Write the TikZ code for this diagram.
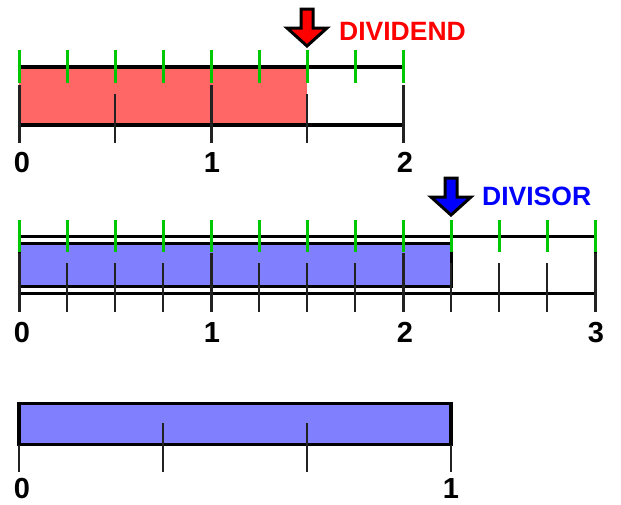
\documentclass[tikz,border=0pt]{standalone}
\usepackage{fontspec}
\setmainfont{Liberation Sans}
\definecolor{redfill}{HTML}{FF6666}
\definecolor{bluefill}{HTML}{8080FF}
\definecolor{tickgreen}{HTML}{00C800}
\definecolor{tickgray}{HTML}{222222}
\begin{document}
\begin{tikzpicture}[x=1pt,y=-1pt,
  barline/.style={line width=3.5pt,draw=black},
  barline2/.style={line width=3pt,draw=black},
  majtick/.style={line width=3pt,draw=tickgray},
  mintick/.style={line width=2.3pt,draw=tickgray},
  greentick/.style={line width=3pt,draw=tickgreen},
  num/.style={font=\bfseries\fontsize{29}{29}\selectfont,inner sep=0pt,anchor=base},
  lab/.style={font=\bfseries\fontsize{26.5}{26.5}\selectfont,inner sep=0pt,anchor=west},
  pointer/.style={line width=3pt,draw=black,line join=miter,miter limit=10},
  pics/downptr/.style={code={
    \filldraw[pointer,fill=#1] (-6,-37) -- (6,-37) -- (6,-18) -- (20,-18) -- (0,0)
      -- (-20,-18) -- (-6,-18) -- cycle;}}
]
\useasboundingbox (0,0) rectangle (621,504);

% ---------- top bar (dividend) ----------
\fill[redfill] (19,67) rectangle (307,125);
\draw[barline] (19,67) -- (403,67);
\draw[barline] (19,125) -- (403,125);
\foreach \i in {0,1,2} \draw[majtick] (19+192*\i,85) -- (19+192*\i,143);
\foreach \x in {115,307} \draw[mintick] (\x,94) -- (\x,143);
\foreach \i in {0,...,8} \draw[greentick] (19+48*\i,50) -- (19+48*\i,83);
\node[num] (a0) at (22,172) {0};
\node[num] (a1) at (212,172) {1};
\node[num] (a2) at (405,172) {2};
\pic at (307,46) {downptr=red};
\node[lab,text=red] (dividend) at (339,31) {DIVIDEND};

% ---------- middle bar (divisor) ----------
\draw[barline2] (19,236.7) rectangle (595,293);
\filldraw[barline2,fill=bluefill] (19,243.3) rectangle (451,286);
\foreach \i in {0,1,2,3} \draw[majtick] (19+192*\i,253) -- (19+192*\i,312);
\foreach \i in {1,2,3,5,6,7,9,10,11} \draw[mintick] (19+48*\i,263) -- (19+48*\i,312);
\foreach \i in {0,...,12} \draw[greentick] (19+48*\i,220) -- (19+48*\i,252);
\node[num] (b0) at (22,342) {0};
\node[num] (b1) at (212,342) {1};
\node[num] (b2) at (405,342) {2};
\node[num] (b3) at (596,342) {3};
\pic at (451,215) {downptr=blue};
\node[lab,text=blue] (divisor) at (482,196.5) {DIVISOR};

% ---------- bottom bar (one divisor) ----------
\filldraw[barline,fill=bluefill] (19,403.5) rectangle (451,444.5);
\foreach \x in {163,307} \draw[mintick] (\x,423) -- (\x,472);
\foreach \x in {19,451} \draw[mintick] (\x,444.5) -- (\x,472);
\node[num] (c0) at (22,498) {0};
\node[num] (c1) at (451,498) {1};
\end{tikzpicture}
\end{document}
